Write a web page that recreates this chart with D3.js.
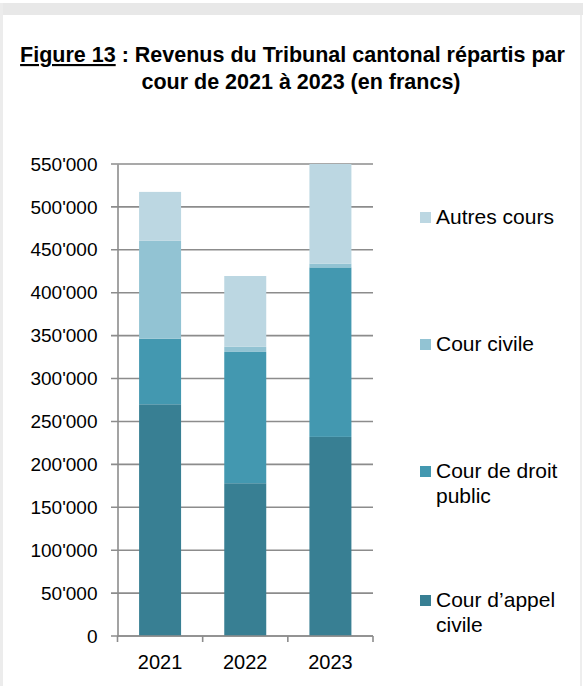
<!DOCTYPE html>
<html>
<head>
<meta charset="utf-8">
<script src="https://cdn.jsdelivr.net/npm/d3@7"></script>
<style>
  html, body { margin: 0; padding: 0; background: #ffffff; }
  svg { display: block; font-family: "Liberation Sans", Arial, sans-serif; }
</style>
</head>
<body>
<svg id="chart" width="583" height="686"></svg>
<script>
// Revenus par cour, en francs
const years = ["2021", "2022", "2023"];
const appelCivile = [270000, 178000, 232000];
const droitPublic = [76500, 153000, 197500];
const courCivile = [114000, 6000, 4500];
const autresCours = [57000, 82500, 116000];

const seriesNames = ["Cour d\u2019appel civile", "Cour de droit public", "Cour civile", "Autres cours"];
const seriesColors = ["#387f93", "#4398b0", "#92c3d3", "#bcd7e2"];
const yTicks = [0, 50000, 100000, 150000, 200000, 250000, 300000, 350000, 400000, 450000, 500000, 550000];

const rows = years.map((y, i) => ({
  year: y,
  s0: appelCivile[i],
  s1: droitPublic[i],
  s2: courCivile[i],
  s3: autresCours[i]
}));
const keys = ["s0", "s1", "s2", "s3"];
const stacked = d3.stack().keys(keys)(rows);

const svg = d3.select("#chart");

// cadre
svg.append("rect").attr("x", 0).attr("y", 3).attr("width", 583).attr("height", 12).attr("fill", "#e8e8e8");
svg.append("rect").attr("x", 0).attr("y", 3).attr("width", 3).attr("height", 683).attr("fill", "#ececec");
svg.append("rect").attr("x", 580).attr("y", 15).attr("width", 2).attr("height", 671).attr("fill", "#eeeeee");

// titre
const title = svg.append("text")
  .attr("text-anchor", "middle")
  .attr("font-weight", "bold")
  .attr("font-size", 21.5)
  .attr("fill", "#000");
title.append("tspan").attr("x", 292.5).attr("y", 62)
  .attr("text-decoration", "underline").text("Figure 13");
title.append("tspan").text(" : Revenus du Tribunal cantonal r\u00e9partis par");
svg.append("text")
  .attr("x", 301).attr("y", 89)
  .attr("text-anchor", "middle")
  .attr("font-weight", "bold")
  .attr("font-size", 21.5)
  .text("cour de 2021 \u00e0 2023 (en francs)");

const x = d3.scaleBand().domain(years).range([117.5, 373]).paddingInner(0.507).paddingOuter(0.2535);
const y = d3.scaleLinear().domain([0, 550000]).range([636, 164]);

const fmt = v => v === 0 ? "0" : d3.format(",")(v).replace(/,/g, "'");

// grille
svg.append("g").selectAll("line").data(yTicks).join("line")
  .attr("x1", 111).attr("x2", 373)
  .attr("y1", d => y(d)).attr("y2", d => y(d))
  .attr("stroke", "#8c8c8c").attr("stroke-width", 1.6);

// barres empilées
svg.append("g").selectAll("g").data(stacked).join("g")
  .attr("fill", (d, i) => seriesColors[i])
  .selectAll("rect").data(d => d).join("rect")
  .attr("x", d => x(d.data.year))
  .attr("width", x.bandwidth())
  .attr("y", d => y(d[1]))
  .attr("height", d => y(d[0]) - y(d[1]));

// axe vertical
const yAxis = d3.axisLeft(y).tickValues(yTicks).tickFormat(fmt).tickSize(0).tickPadding(20);
const gy = svg.append("g").attr("transform", "translate(117.5,0)").call(yAxis);
gy.select(".domain").attr("stroke", "#8c8c8c").attr("stroke-width", 1.6);
gy.selectAll("text").attr("font-size", 19).attr("fill", "#000")
  .attr("font-family", "Liberation Sans, Arial, sans-serif");

// axe horizontal
const gx = svg.append("g").attr("transform", "translate(0,636)");
gx.append("line").attr("x1", 117.5).attr("x2", 373).attr("y1", 0).attr("y2", 0)
  .attr("stroke", "#8c8c8c").attr("stroke-width", 1.6);
const bounds = [117.5].concat(years.map(yr => x(yr) + x.bandwidth() + x.step() * 0.2535));
gx.selectAll("line.t").data(bounds).join("line").attr("class", "t")
  .attr("x1", d => d).attr("x2", d => d).attr("y1", 0).attr("y2", 6)
  .attr("stroke", "#8c8c8c").attr("stroke-width", 1.6);
gx.selectAll("text").data(years).join("text")
  .attr("x", d => x(d) + x.bandwidth() / 2)
  .attr("y", 33)
  .attr("text-anchor", "middle")
  .attr("font-size", 20)
  .text(d => d);

// légende
const legendItems = [
  { i: 3, lines: ["Autres cours"], base: 224 },
  { i: 2, lines: ["Cour civile"], base: 351 },
  { i: 1, lines: ["Cour de droit", "public"], base: 478 },
  { i: 0, lines: ["Cour d\u2019appel", "civile"], base: 607 }
];
const lg = svg.append("g").selectAll("g").data(legendItems).join("g");
lg.append("rect")
  .attr("x", 420).attr("y", d => d.base - 12)
  .attr("width", 11).attr("height", 11)
  .attr("fill", d => seriesColors[d.i]);
lg.each(function(d) {
  const t = d3.select(this).append("text").attr("font-size", 21).attr("fill", "#000");
  d.lines.forEach((ln, k) => {
    t.append("tspan").attr("x", 436).attr("y", d.base + k * 25).text(ln);
  });
});
</script>
</body>
</html>
